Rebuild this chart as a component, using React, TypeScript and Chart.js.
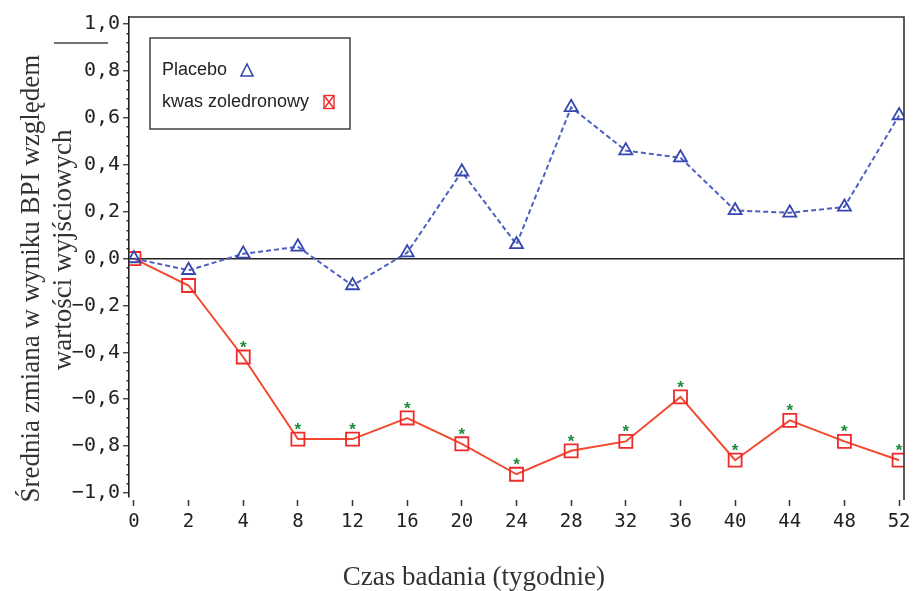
import { useEffect, useRef } from 'react';
import { Chart, registerables } from 'chart.js';

Chart.register(...registerables);

// ---- data ----
const weeks = ['0', '2', '4', '8', '12', '16', '20', '24', '28', '32', '36', '40', '44', '48', '52'];
const placebo = [0, -0.05, 0.02, 0.05, -0.115, 0.025, 0.37, 0.06, 0.645, 0.46, 0.43, 0.205, 0.195, 0.22, 0.61];
const zoledronic = [0, -0.115, -0.42, -0.77, -0.77, -0.68, -0.79, -0.92, -0.82, -0.78, -0.59, -0.86, -0.69, -0.78, -0.86];
const significant = [false, false, true, true, true, true, true, true, true, true, true, true, true, true, true];
const seriesNames = ['Placebo', 'kwas zoledronowy'];
const yTitleLines = ['Średnia zmiana w wyniku BPI względem', 'wartości wyjściowych'];
const xTitle = 'Czas badania (tygodnie)';

const BLUE = '#3747b0';
const BLUE_LINE = '#4f5fc0';
const RED = '#ee2a2a';
const RED_LINE = '#f24a30';
const GREEN = '#1d8a3c';
const INK = '#222222';

const isMajor = (v: number) => Math.abs(v * 5 - Math.round(v * 5)) < 1e-6;
const fmt = (v: number) => {
  const s = Math.abs(v).toFixed(1).replace('.', ',');
  return v < -1e-9 ? '\u2212' + s : s;
};

const decorPlugin = {
  id: 'decor',
  afterDatasetsDraw(chart: any) {
    const { ctx, chartArea } = chart;
    const { left, top, right, bottom } = chartArea;
    ctx.save();
    // frame: top and right borders
    ctx.strokeStyle = '#333';
    ctx.lineWidth = 1.6;
    ctx.beginPath();
    ctx.moveTo(left, top);
    ctx.lineTo(right, top);
    ctx.lineTo(right, bottom + 3);
    ctx.stroke();

    // significance asterisks
    const meta = chart.getDatasetMeta(1);
    ctx.fillStyle = GREEN;
    ctx.font = 'bold 17px "Liberation Sans"';
    ctx.textAlign = 'center';
    ctx.textBaseline = 'alphabetic';
    meta.data.forEach((pt: any, i: number) => {
      if (significant[i]) ctx.fillText('*', pt.x, pt.y - 4);
    });

    // legend
    const ds = chart.data.datasets;
    const bx = left + 21;
    const by = top + 21;
    ctx.strokeStyle = '#333';
    ctx.lineWidth = 1.4;
    ctx.strokeRect(bx, by, 200, 91);
    ctx.fillStyle = INK;
    ctx.font = '18px "Liberation Sans"';
    ctx.textAlign = 'left';
    ctx.textBaseline = 'middle';
    ctx.fillText(ds[0].label, bx + 12, by + 32);
    ctx.fillText(ds[1].label, bx + 12, by + 64);
    // triangle marker
    const tx = bx + 97;
    const ty = by + 32;
    ctx.strokeStyle = ds[0].pointBorderColor;
    ctx.lineWidth = 1.6;
    ctx.beginPath();
    ctx.moveTo(tx, ty - 6);
    ctx.lineTo(tx + 6, ty + 6);
    ctx.lineTo(tx - 6, ty + 6);
    ctx.closePath();
    ctx.stroke();
    // square with X marker
    const sx = bx + 179;
    const sy = by + 64;
    ctx.strokeStyle = ds[1].pointBorderColor;
    ctx.lineWidth = 1.4;
    ctx.strokeRect(sx - 5, sy - 6.5, 10, 13);
    ctx.beginPath();
    ctx.moveTo(sx - 5, sy - 6.5);
    ctx.lineTo(sx + 5, sy + 6.5);
    ctx.moveTo(sx + 5, sy - 6.5);
    ctx.lineTo(sx - 5, sy + 6.5);
    ctx.stroke();

    // axis titles
    ctx.fillStyle = '#333';
    ctx.font = '27px "Liberation Serif"';
    ctx.textAlign = 'center';
    ctx.textBaseline = 'alphabetic';
    ctx.fillText(xTitle, left + (right - left) * 0.445, 585);

    ctx.textBaseline = 'middle';
    ctx.save();
    ctx.translate(32, top + (bottom - top) * 0.545);
    ctx.rotate(-Math.PI / 2);
    ctx.fillText(yTitleLines[0], 0, 0);
    ctx.restore();
    ctx.save();
    ctx.translate(64, top + (bottom - top) * 0.485);
    ctx.rotate(-Math.PI / 2);
    ctx.fillText(yTitleLines[1], 0, 0);
    ctx.restore();

    // short stray rule near the top of the axis title
    ctx.strokeStyle = '#444';
    ctx.lineWidth = 1.4;
    ctx.beginPath();
    ctx.moveTo(54, 43);
    ctx.lineTo(108, 43);
    ctx.stroke();

    ctx.restore();
  },
};

export default function App() {
  const ref = useRef<HTMLCanvasElement | null>(null);

  useEffect(() => {
    if (!ref.current) return;
    const chart = new Chart(ref.current, {
      type: 'line',
      data: {
        datasets: [
          {
            label: seriesNames[0],
            data: placebo.map((v, i) => ({ x: i, y: v })),
            borderColor: BLUE_LINE,
            borderWidth: 2,
            borderDash: [5, 3],
            pointStyle: 'triangle',
            pointRadius: 7.5,
            pointHoverRadius: 7.5,
            pointBorderColor: BLUE,
            pointBackgroundColor: 'rgba(0,0,0,0)',
            pointBorderWidth: 1.8,
            tension: 0,
            clip: 0,
          } as any,
          {
            label: seriesNames[1],
            data: zoledronic.map((v, i) => ({ x: i, y: v })),
            borderColor: RED_LINE,
            borderWidth: 2,
            pointStyle: 'rect',
            pointRadius: 9.2,
            pointHoverRadius: 9.2,
            pointBorderColor: RED,
            pointBackgroundColor: 'rgba(0,0,0,0)',
            pointBorderWidth: 1.8,
            tension: 0,
            clip: 0,
          } as any,
        ],
      },
      options: {
        animation: false,
        responsive: false,
        events: [],
        layout: { padding: { top: 17, right: 8, left: 0, bottom: 0 } },
        plugins: { legend: { display: false }, tooltip: { enabled: false } },
        scales: {
          x: {
            type: 'linear',
            min: -0.09,
            max: 14.09,
            afterFit: (s: any) => {
              s.height = 94;
              s.paddingLeft = 0;
              s.paddingRight = 0;
            },
            border: { display: false },
            grid: {
              drawOnChartArea: false,
              tickLength: 9,
              tickColor: '#333',
              tickWidth: 1.5,
              tickBorderDash: [0, 3, 6, 40],
            },
            ticks: {
              stepSize: 1,
              autoSkip: false,
              includeBounds: false,
              maxRotation: 0,
              padding: 5,
              color: INK,
              font: { family: '"DejaVu Sans Mono"', size: 19 },
              callback: (v: any) => weeks[Math.round(Number(v))] ?? '',
            },
          },
          y: {
            type: 'linear',
            min: -1.017,
            max: 1.03,
            afterFit: (s: any) => {
              s.width = 129;
              s.paddingTop = 0;
              s.paddingBottom = 0;
            },
            border: { display: true, color: INK, width: 1.6 },
            grid: {
              drawOnChartArea: true,
              color: (c: any) => (c.tick && Math.abs(c.tick.value) < 1e-9 ? INK : 'rgba(0,0,0,0)'),
              lineWidth: 1.5,
              tickLength: 6,
              tickColor: '#333',
              tickWidth: 1.3,
              tickBorderDash: (c: any) => (c.tick && isMajor(c.tick.value) ? [] : [0, 3.5, 2.5, 40]),
            },
            ticks: {
              stepSize: 0.04,
              autoSkip: false,
              includeBounds: false,
              padding: 3,
              color: INK,
              font: { family: '"DejaVu Sans Mono"', size: 20 },
              callback: (v: any) => (isMajor(Number(v)) ? fmt(Number(v)) : ''),
            },
          },
        },
      } as any,
      plugins: [decorPlugin],
    });
    return () => chart.destroy();
  }, []);

  return (
    <div style={{ position: 'absolute', left: 0, top: 0, width: 915, height: 591, background: '#fff' }}>
      <canvas ref={ref} width={915} height={591} style={{ display: 'block' }} />
    </div>
  );
}
